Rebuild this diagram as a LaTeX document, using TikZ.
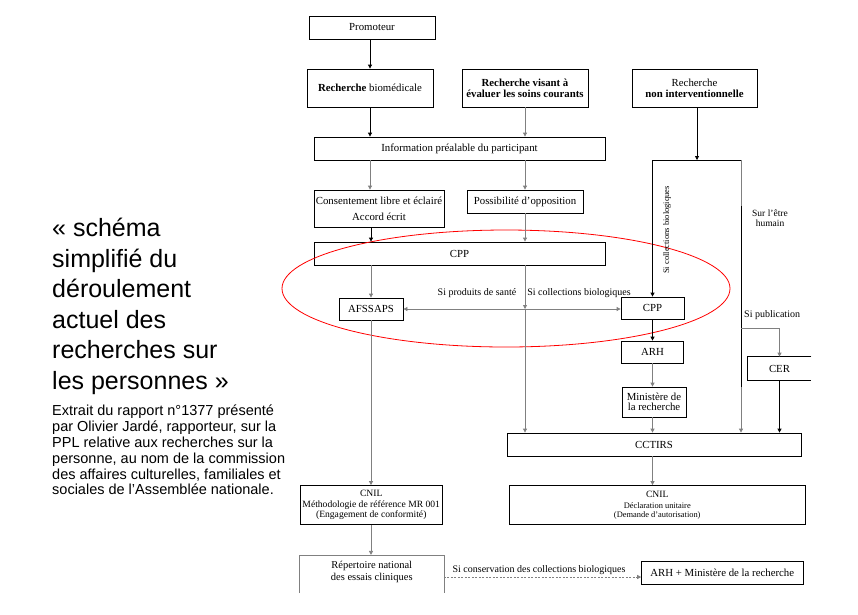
\documentclass[tikz,border=0pt]{standalone}
\usepackage{fontspec}
\setmainfont{Liberation Serif}
\newfontfamily\titlefont{Liberation Sans}
\usetikzlibrary{arrows.meta}
\begin{document}
\begin{tikzpicture}[x=1pt,y=-1pt,
  box/.style={draw=black, line width=0.8pt, inner sep=0pt, align=center, font=\fontsize{10.8}{11}\selectfont},
  gl/.style={draw=black!50, line width=0.8pt},
  bl/.style={draw=black, line width=0.8pt},
  arr/.style={-{Triangle[length=4pt,width=4pt]}},
  darr/.style={{Triangle[length=4pt,width=4pt]}-{Triangle[length=4pt,width=4pt]}},
  lab/.style={font=\fontsize{10}{11}\selectfont, inner sep=0pt, align=center}]
\useasboundingbox (0,0) rectangle (858,614);
\fill[white] (0,0) rectangle (858,614);

% left texts
\node[anchor=north west, inner sep=0pt, align=left, font=\titlefont\fontsize{25}{30.5}\selectfont] (title) at (52,218)
  {« schéma\\simplifié du\\déroulement\\actuel des\\recherches sur\\les personnes »};
\node[anchor=north west, inner sep=0pt, align=left, font=\titlefont\fontsize{14.5}{15.8}\selectfont] (cap) at (52,405)
  {Extrait du rapport n°1377 présenté\\par Olivier Jardé, rapporteur, sur la\\PPL relative aux recherches sur la\\personne, au nom de la commission\\des affaires culturelles, familiales et\\sociales de l’Assemblée nationale.};

% boxes
\node[box, minimum width=126pt, minimum height=23pt] (prom) at (372,27.5) {Promoteur};
\node[box, minimum width=126pt, minimum height=38pt] (rbio) at (370,88) {\textbf{Recherche} biomédicale};
\node[box, minimum width=126pt, minimum height=38pt] (rvis) at (525,88) {\textbf{Recherche visant à}\\\textbf{évaluer les soins courants}};
\node[box, minimum width=125pt, minimum height=38pt] (rnon) at (694.5,88) {Recherche\\\textbf{non interventionnelle}};
\node[box, minimum width=291pt, minimum height=23pt] (info) at (459.5,148.5) {Information préalable du participant};
\node[box, minimum width=130pt, minimum height=37pt, font=\fontsize{10.8}{16}\selectfont] (cons) at (379,208.5) {Consentement libre et éclairé\\Accord écrit};
\node[box, minimum width=116pt, minimum height=23pt] (poss) at (525,201.5) {Possibilité d’opposition};
\node[box, minimum width=291pt, minimum height=23pt] (cpp1) at (459.5,253.5) {CPP};
\node[box, minimum width=64pt, minimum height=22pt] (afs) at (371,309) {AFSSAPS};
\node[box, minimum width=63pt, minimum height=22pt] (cpp2) at (652.5,308) {CPP};
\node[box, minimum width=62pt, minimum height=22pt] (arh) at (652.5,352) {ARH};
\node[box, minimum width=64pt, minimum height=30pt, font=\fontsize{10.8}{10.5}\selectfont] (min) at (654,402) {Ministère de\\la recherche};
\node[box, draw=none, minimum width=63pt, minimum height=23pt] (cer) at (779.5,368.5) {CER};
\draw[bl] (cer.north east) -- (cer.north west) -- (cer.south west) -- (cer.south east);
\node[box, minimum width=294pt, minimum height=23pt] (cctirs) at (654,444.5) {CCTIRS};
\node[box, minimum width=142.5pt, minimum height=39pt, font=\fontsize{9.6}{10.5}\selectfont] (cnil1) at (371.25,505) {CNIL\\Méthodologie de référence MR 001\\(Engagement de conformité)};
\node[box, minimum width=295.5pt, minimum height=39pt, font=\fontsize{8.4}{9}\selectfont] (cnil2) at (657.25,505) {{\fontsize{9.6}{10}\selectfont CNIL}\\[2pt]Déclaration unitaire\\(Demande d’autorisation)};
\node[box, draw=none, minimum width=143.5pt, minimum height=33.4pt, font=\fontsize{10.5}{11.7}\selectfont] (rep) at (371.75,572) {Répertoire national\\des essais cliniques};
\draw[gl] ([yshift=-4pt]rep.south west) -- (rep.north west) -- (rep.north east) -- ([yshift=-4pt]rep.south east);
\node[box, minimum width=161.4pt, minimum height=22.3pt] (arhmin) at (722.3,573) {ARH + Ministère de la recherche};

% red ellipse
\draw[red, line width=0.8pt] (506,288.5) ellipse [x radius=224, y radius=58.5];

% connectors
\draw[bl,arr] (prom.south -| rbio.north) -- (rbio.north);
\draw[bl,arr] (rbio.south) -- (rbio.south |- info.north);
\draw[gl,arr] (rvis.south) -- (rvis.south |- info.north);
\draw[gl,arr] (info.south -| rbio.south) -- (cons.north -| rbio.south);
\draw[gl,arr] (info.south -| poss.north) -- (poss.north);
\draw[bl,arr] (cons.south -| afs.north) -- (cpp1.north -| afs.north);
\draw[gl,arr] (poss.south) -- (poss.south |- cpp1.north);
\draw[gl,arr] (cpp1.south -| afs.north) -- (afs.north);
\coordinate (mid) at (afs.east -| poss.south);
\draw[gl,arr] (cpp1.south -| poss.south) -- (mid);
\draw[gl,arr] (mid) -- (cctirs.north -| mid);
\draw[gl,darr] (afs.east) -- (afs.east -| cpp2.west);

\coordinate (jl) at (652.5,160);
\coordinate (jt) at (697,160);
\coordinate (jr) at (741,160);
\coordinate (rv1) at (741,206);
\coordinate (br) at (741,328);
\coordinate (rv2) at (741,387);
\draw[bl,arr] (rnon.south -| jt) -- (jt);
\draw[bl] (jl) -- (jr);
\draw[bl,arr] (jl) -- (cpp2.north);
\draw[gl] (jr) -- (rv1);
\draw[bl] (rv1) -- (rv2);
\draw[gl,arr] (rv2) -- (cctirs.north -| rv2);
\draw[gl,arr] (br) -| (cer.north);
\draw[bl,arr] (cer.south) -- (cer.south |- cctirs.north);
\draw[bl,arr] (cpp2.south) -- (arh.north);
\draw[gl,arr] (arh.south) -- (arh.south |- min.north);
\draw[gl,arr] (min.south -| arh.south) -- (cctirs.north -| arh.south);
\draw[gl,arr] (cctirs.south -| arh.south) -- (cnil2.north -| arh.south);
\draw[gl,arr] (afs.south) -- (afs.south |- cnil1.north);
\draw[gl,arr] (cnil1.south -| afs.south) -- (rep.north -| afs.south);
\draw[gl,dash pattern=on 2pt off 1.5pt,arr] ([yshift=-5pt]rep.east) -- ([yshift=-5pt]rep.east -| arhmin.west);

% labels
\node[lab] (lps) at (477,293) {Si produits de santé};
\node[lab] (lcb) at (579,293) {Si collections biologiques};
\node[lab, rotate=90, font=\fontsize{8.5}{10}\selectfont] (lrot) at (667,230) {Si collections biologiques};
\node[lab, font=\fontsize{9.5}{10}\selectfont] (lseh) at (770,218) {Sur l’être\\humain};
\node[lab, anchor=west] (lpub) at (744,315) {Si publication};
\node[lab] (lcons) at (539,570) {Si conservation des collections biologiques};
\end{tikzpicture}
\end{document}
